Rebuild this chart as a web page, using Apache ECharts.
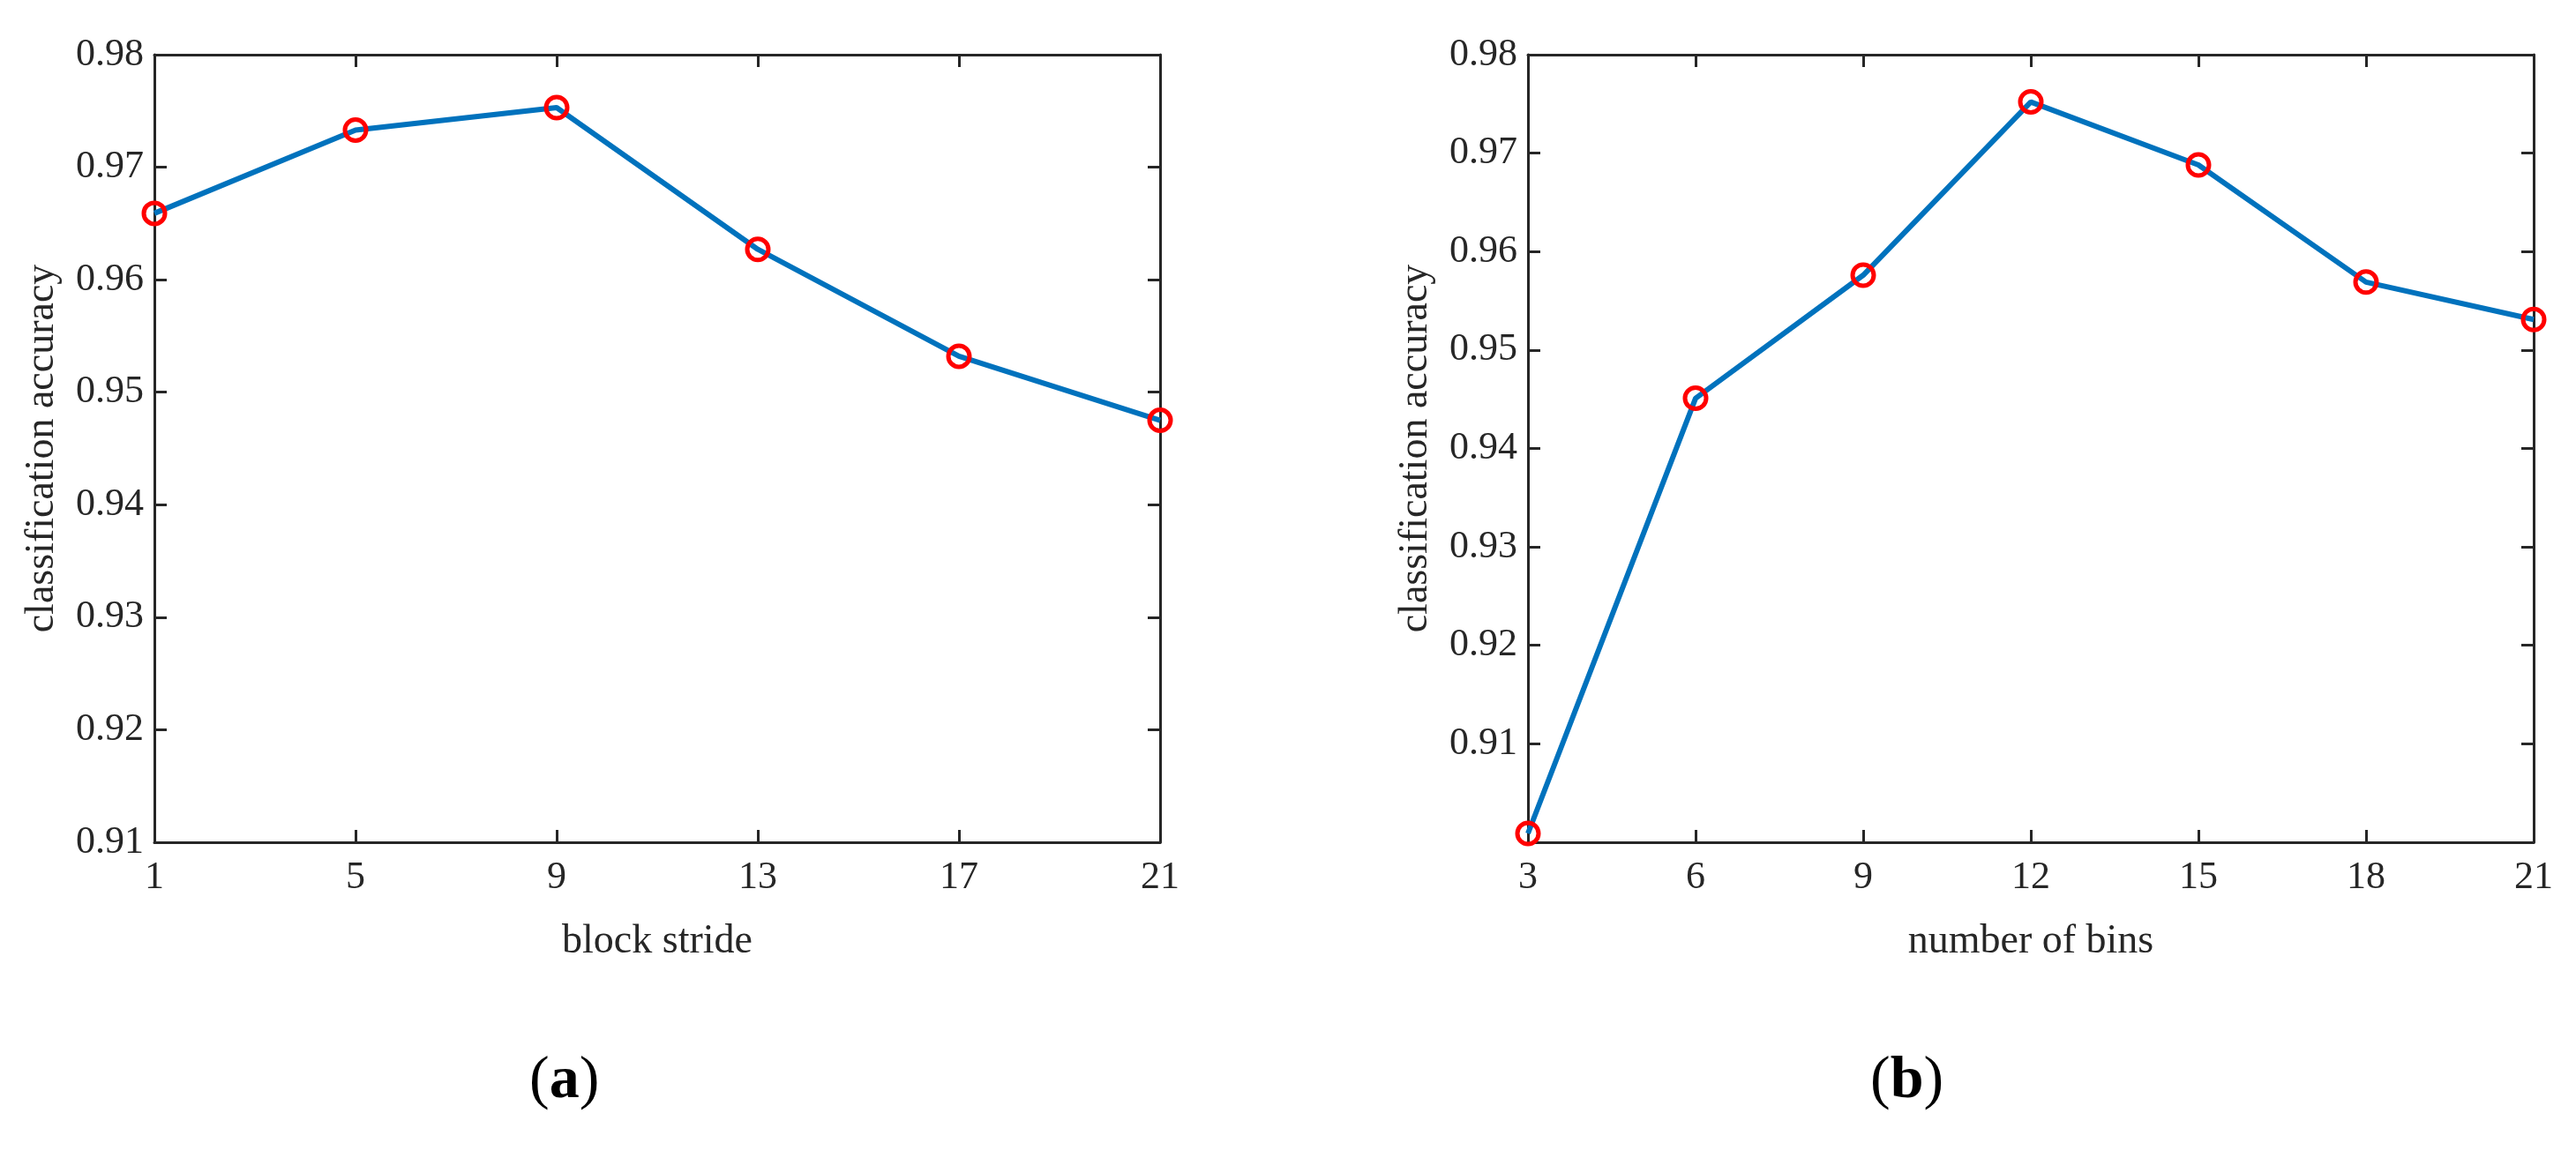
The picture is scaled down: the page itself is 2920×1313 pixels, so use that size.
<!DOCTYPE html>
<html><head><meta charset="utf-8">
<script src="https://cdn.jsdelivr.net/npm/echarts@6/dist/echarts.min.js"></script>
<style>html,body{margin:0;background:#fff}#c{width:2920px;height:1313px}</style>
</head><body><div id="c"></div>
<script>
const xA = [1,5,9,13,17,21];
const yA = [0.9659,0.9733,0.9753,0.9627,0.9532,0.9475];
const xB = [3,6,9,12,15,18,21];
const yB = [0.9009,0.9451,0.9576,0.9752,0.9688,0.9569,0.9531];

const F = 'Liberation Serif';
const C = '#262626';
const grids = [
  {left:175, right:2920-1315, top:62, height:893},
  {left:1732, right:2920-2872, top:62, height:893}
];
function xAxes(i,min,max,interval,name){
  const base = {type:'value',gridIndex:i,min,max,interval,
    axisLine:{lineStyle:{color:C,width:3}},
    axisTick:{inside:true,length:14,lineStyle:{color:C,width:3}},
    splitLine:{show:false}};
  return [
    Object.assign({},base,{position:'bottom',name,nameLocation:'middle',nameGap:90,
      nameTextStyle:{fontFamily:F,fontSize:46,color:C},
      axisLabel:{fontFamily:F,fontSize:44,color:C,margin:18}}),
    Object.assign({},base,{position:'top',axisLabel:{show:false}})
  ];
}
function yAxes(i,min,max,fmt){
  const base = {type:'value',gridIndex:i,min,max,interval:0.01,
    axisLine:{lineStyle:{color:C,width:3}},
    axisTick:{inside:true,length:14,lineStyle:{color:C,width:3}},
    splitLine:{show:false}};
  return [
    Object.assign({},base,{position:'left',name:'classification accuracy',nameLocation:'middle',nameGap:104,
      nameTextStyle:{fontFamily:F,fontSize:46,color:C},
      axisLabel:{fontFamily:F,fontSize:44,color:C,margin:12,formatter:fmt}}),
    Object.assign({},base,{position:'right',axisLabel:{show:false}})
  ];
}
function ser(i,xs,ys){
  return {type:'line',xAxisIndex:i*2,yAxisIndex:i*2,data:xs.map((x,k)=>[x,ys[k]]),
    lineStyle:{color:'#0072BD',width:6},symbol:'circle',symbolSize:24,
    itemStyle:{color:'rgba(255,255,255,0)',borderColor:'#FF0000',borderWidth:5},
    showSymbol:true,clip:false,z:3};
}
const chart = echarts.init(document.getElementById('c'));
chart.setOption({
  animation:false,
  grid:grids,
  xAxis:[...xAxes(0,1,21,4,'block stride'),...xAxes(1,3,21,3,'number of bins')],
  yAxis:[...yAxes(0,0.91,0.98,v=>v.toFixed(2)),...yAxes(1,0.90,0.98,v=>Math.abs(v-0.9)<1e-6?'':v.toFixed(2))],
  series:[ser(0,xA,yA),ser(1,xB,yB)],
  graphic:[
    {type:'text',left:600,top:1192,style:{rich:{p:{fontFamily:F,fontSize:68,fill:'#000'},b:{fontFamily:F,fontSize:68,fontWeight:'bold',fill:'#000'}},text:'{p|(}{b|a}{p|)}'}},
    {type:'text',left:2120,top:1192,style:{rich:{p:{fontFamily:F,fontSize:68,fill:'#000'},b:{fontFamily:F,fontSize:68,fontWeight:'bold',fill:'#000'}},text:'{p|(}{b|b}{p|)}'}}
  ]
});
</script></body></html>
